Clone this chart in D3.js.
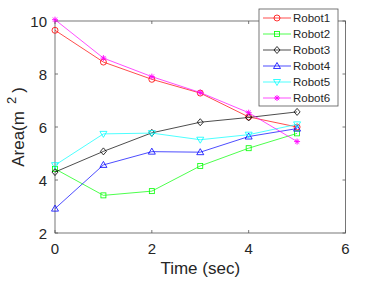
<!DOCTYPE html>
<html>
<head>
<meta charset="utf-8">
<script src="https://cdn.jsdelivr.net/npm/d3@7"></script>
<style>
  body { margin: 0; background: #fff; }
  text { font-family: "Liberation Sans", Arial, sans-serif; fill: #262626; }
</style>
</head>
<body>
<div id="chart"></div>
<script>
const times = [0, 1, 2, 3, 4, 5];
const robot1 = [9.65, 8.45, 7.8, 7.28, 6.38, 6.0];
const robot2 = [4.42, 3.42, 3.58, 4.53, 5.2, 5.76];
const robot3 = [4.3, 5.08, 5.78, 6.18, 6.36, 6.57];
const robot4 = [2.92, 4.57, 5.07, 5.05, 5.64, 5.94];
const robot5 = [4.56, 5.74, 5.77, 5.52, 5.71, 6.1];
const robot6 = [10.05, 8.6, 7.9, 7.3, 6.54, 5.45];
const xTicks = [0, 2, 4, 6];
const yTicks = [2, 4, 6, 8, 10];

const series = [
  { name: 'Robot1', values: robot1, color: '#ff0000', marker: 'circle' },
  { name: 'Robot2', values: robot2, color: '#00ff00', marker: 'square' },
  { name: 'Robot3', values: robot3, color: '#000000', marker: 'diamond' },
  { name: 'Robot4', values: robot4, color: '#0000ff', marker: 'up' },
  { name: 'Robot5', values: robot5, color: '#00ffff', marker: 'down' },
  { name: 'Robot6', values: robot6, color: '#ff00ff', marker: 'star' }
];

const width = 382, height = 281;
const plotL = 55, plotR = 345.5, plotT = 21, plotB = 233;

const svg = d3.select('#chart').append('svg')
  .attr('width', width).attr('height', height);

const x = d3.scaleLinear().domain([0, 6]).range([plotL, plotR]);
const y = d3.scaleLinear().domain([2, 10]).range([plotB, plotT]);

// axes box
const axisColor = '#555';
svg.append('rect')
  .attr('x', plotL).attr('y', plotT)
  .attr('width', plotR - plotL).attr('height', plotB - plotT)
  .attr('fill', 'none').attr('stroke', axisColor).attr('stroke-width', 0.8);

// ticks (inside, on both sides)
xTicks.forEach(t => {
  svg.append('line').attr('x1', x(t)).attr('x2', x(t)).attr('y1', plotB).attr('y2', plotB - 3)
    .attr('stroke', axisColor).attr('stroke-width', 0.8);
  svg.append('line').attr('x1', x(t)).attr('x2', x(t)).attr('y1', plotT).attr('y2', plotT + 3)
    .attr('stroke', axisColor).attr('stroke-width', 0.8);
  svg.append('text').attr('x', x(t)).attr('y', plotB + 21)
    .attr('text-anchor', 'middle').attr('font-size', 15).text(t);
});
yTicks.forEach(t => {
  svg.append('line').attr('x1', plotL).attr('x2', plotL + 3).attr('y1', y(t)).attr('y2', y(t))
    .attr('stroke', axisColor).attr('stroke-width', 0.8);
  svg.append('line').attr('x1', plotR).attr('x2', plotR - 3).attr('y1', y(t)).attr('y2', y(t))
    .attr('stroke', axisColor).attr('stroke-width', 0.8);
  svg.append('text').attr('x', plotL - 8).attr('y', y(t) + 5.5)
    .attr('text-anchor', 'end').attr('font-size', 15).text(t);
});

// axis titles
svg.append('text').attr('x', (plotL + plotR) / 2).attr('y', 274)
  .attr('text-anchor', 'middle').attr('font-size', 17).text('Time (sec)');

const yt = svg.append('text')
  .attr('transform', `translate(24,${(plotT + plotB) / 2}) rotate(-90)`)
  .attr('text-anchor', 'middle').attr('font-size', 17);
yt.append('tspan').text('Area(m');
yt.append('tspan').attr('dx', 7).attr('dy', -8).attr('font-size', 13).text('2');
yt.append('tspan').attr('dx', 4).attr('dy', 8).text(')');

function drawMarker(g, type, cx, cy, color) {
  if (type === 'circle') {
    g.append('circle').attr('cx', cx).attr('cy', cy).attr('r', 3)
      .attr('fill', 'none').attr('stroke', color).attr('stroke-width', 0.8);
  } else if (type === 'square') {
    g.append('rect').attr('x', cx - 2.5).attr('y', cy - 2.5).attr('width', 5).attr('height', 5)
      .attr('fill', 'none').attr('stroke', color).attr('stroke-width', 0.8);
  } else if (type === 'diamond') {
    g.append('path').attr('d', `M${cx},${cy - 3.5}L${cx + 3},${cy}L${cx},${cy + 3.5}L${cx - 3},${cy}Z`)
      .attr('fill', 'none').attr('stroke', color).attr('stroke-width', 0.8);
  } else if (type === 'up') {
    g.append('path').attr('d', `M${cx},${cy - 3.5}L${cx + 3.5},${cy + 2.5}L${cx - 3.5},${cy + 2.5}Z`)
      .attr('fill', 'none').attr('stroke', color).attr('stroke-width', 0.8);
  } else if (type === 'down') {
    g.append('path').attr('d', `M${cx},${cy + 3.5}L${cx + 3.5},${cy - 2.5}L${cx - 3.5},${cy - 2.5}Z`)
      .attr('fill', 'none').attr('stroke', color).attr('stroke-width', 0.8);
  } else if (type === 'star') {
    const r = 3;
    let d = '';
    for (let i = 0; i < 4; i++) {
      const a = i * Math.PI / 4;
      d += `M${cx - r * Math.cos(a)},${cy - r * Math.sin(a)}L${cx + r * Math.cos(a)},${cy + r * Math.sin(a)}`;
    }
    g.append('path').attr('d', d).attr('stroke', color).attr('stroke-width', 0.9);
  }
}

const line = d3.line().x((d, i) => x(times[i])).y(d => y(d));

series.forEach(s => {
  const g = svg.append('g');
  g.append('path').datum(s.values).attr('d', line)
    .attr('fill', 'none').attr('stroke', s.color).attr('stroke-width', 0.7);
  s.values.forEach((v, i) => drawMarker(g, s.marker, x(times[i]), y(v), s.color));
});

// legend
const lg = svg.append('g');
lg.append('rect').attr('x', 259).attr('y', 9).attr('width', 79).attr('height', 97)
  .attr('fill', '#fff').attr('stroke', axisColor).attr('stroke-width', 0.8);
series.forEach((s, i) => {
  const ly = 18 + i * 16;
  lg.append('line').attr('x1', 263).attr('x2', 291).attr('y1', ly).attr('y2', ly)
    .attr('stroke', s.color).attr('stroke-width', 0.7);
  drawMarker(lg, s.marker, 277, ly, s.color);
  lg.append('text').attr('x', 293).attr('y', ly + 4).attr('font-size', 11.5).text(s.name);
});
</script>
</body>
</html>
